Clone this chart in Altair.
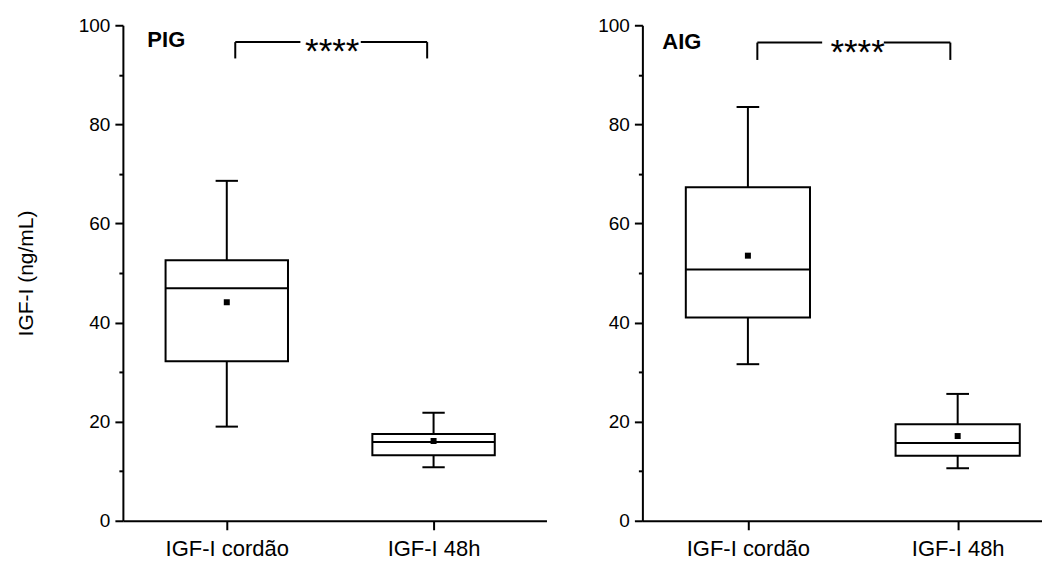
import json
import altair as alt
import pandas as pd

# ---------------- data ----------------
categories = ["IGF-I cordão", "IGF-I 48h"]
positions = [1, 2]

pig_min = [19.0, 10.8]
pig_q1 = [32.2, 13.2]
pig_median = [46.9, 15.9]
pig_q3 = [52.6, 17.5]
pig_max = [68.6, 21.8]
pig_mean = [44.1, 16.1]

aig_min = [31.6, 10.6]
aig_q1 = [41.0, 13.1]
aig_median = [50.7, 15.7]
aig_q3 = [67.3, 19.5]
aig_max = [83.5, 25.6]
aig_mean = [53.5, 17.1]

group_labels = ["PIG", "AIG"]
significance = "****"
y_ticks = [0, 10, 20, 30, 40, 50, 60, 70, 80, 90, 100]

FONT = "Liberation Sans"
BOX_HALF = 0.296
CAP_HALF = 0.054


def panel(label, mins, q1, med, q3, maxs, means, width, xdom, show_title,
          label_pos, brk):
    df = pd.DataFrame({
        "pos": positions, "cat": categories, "lo": mins, "q1": q1,
        "med": med, "q3": q3, "hi": maxs, "mean": means,
    })
    xscale = alt.Scale(domain=xdom, nice=False, zero=False)
    yscale = alt.Scale(domain=[0, 100], nice=False)
    xaxis = alt.Axis(
        values=positions,
        labelExpr=json.dumps(categories) + "[datum.value - 1]",
        title=None, grid=False, domainColor="black", domainWidth=2,
        tickColor="black", tickWidth=2, tickSize=9, labelFontSize=22,
        labelColor="black", labelPadding=9, labelFont=FONT,
    )
    yaxis = alt.Axis(
        values=y_ticks,
        labelExpr="datum.value % 20 === 0 ? datum.label : ''",
        title="IGF-I (ng/mL)" if show_title else None,
        titleFontSize=21, titleFontWeight="normal", titleColor="black",
        titleFont=FONT, titlePadding=42,
        grid=False, domainColor="black", domainWidth=2,
        tickColor="black", tickWidth=2,
        tickSize={"condition": {"test": "datum.value % 20 === 0", "value": 8}, "value": 4},
        labelFontSize=19, labelColor="black", labelPadding=5, labelFont=FONT,
    )

    base = alt.Chart(df).transform_calculate(
        x_lo=f"datum.pos - {BOX_HALF}", x_hi=f"datum.pos + {BOX_HALF}",
        c_lo=f"datum.pos - {CAP_HALF}", c_hi=f"datum.pos + {CAP_HALF}",
    )

    box = base.mark_bar(fill="white", stroke="black", strokeWidth=2).encode(
        x=alt.X("x_lo:Q", scale=xscale, axis=xaxis),
        x2="x_hi:Q",
        y=alt.Y("q1:Q", scale=yscale, axis=yaxis),
        y2="q3:Q",
    )
    median = base.mark_rule(color="black", strokeWidth=2).encode(
        x=alt.X("x_lo:Q", scale=xscale, axis=xaxis), x2="x_hi:Q",
        y=alt.Y("med:Q", scale=yscale, axis=yaxis),
    )
    w_up = base.mark_rule(color="black", strokeWidth=2).encode(
        x=alt.X("pos:Q", scale=xscale, axis=xaxis),
        y=alt.Y("q3:Q", scale=yscale, axis=yaxis), y2="hi:Q",
    )
    w_dn = base.mark_rule(color="black", strokeWidth=2).encode(
        x=alt.X("pos:Q", scale=xscale, axis=xaxis),
        y=alt.Y("lo:Q", scale=yscale, axis=yaxis), y2="q1:Q",
    )
    cap_up = base.mark_rule(color="black", strokeWidth=2).encode(
        x=alt.X("c_lo:Q", scale=xscale, axis=xaxis), x2="c_hi:Q",
        y=alt.Y("hi:Q", scale=yscale, axis=yaxis),
    )
    cap_dn = base.mark_rule(color="black", strokeWidth=2).encode(
        x=alt.X("c_lo:Q", scale=xscale, axis=xaxis), x2="c_hi:Q",
        y=alt.Y("lo:Q", scale=yscale, axis=yaxis),
    )
    mean_pt = base.mark_square(color="black", filled=True, size=36, opacity=1).encode(
        x=alt.X("pos:Q", scale=xscale, axis=xaxis),
        y=alt.Y("mean:Q", scale=yscale, axis=yaxis),
    )

    # significance bracket (data coordinates)
    bx0, bx1, gap0, gap1, ytop, ybot, tx, ty = brk
    seg = pd.DataFrame({
        "x": [bx0, gap1, bx0, bx1],
        "x2": [gap0, bx1, bx0, bx1],
        "y": [ytop, ytop, ytop, ytop],
        "y2": [ytop, ytop, ybot, ybot],
    })
    bracket = alt.Chart(seg).mark_rule(color="black", strokeWidth=2).encode(
        x=alt.X("x:Q", scale=xscale, axis=xaxis), x2="x2:Q",
        y=alt.Y("y:Q", scale=yscale, axis=yaxis), y2="y2:Q",
    )
    stars = alt.Chart(pd.DataFrame({"x": [tx], "y": [ty], "t": [significance]})).mark_text(
        font=FONT, fontSize=35, align="center", baseline="alphabetic", color="black"
    ).encode(
        x=alt.X("x:Q", scale=xscale, axis=xaxis),
        y=alt.Y("y:Q", scale=yscale, axis=yaxis), text="t:N",
    )
    lx, ly = label_pos
    grp = alt.Chart(pd.DataFrame({"x": [lx], "y": [ly], "t": [label]})).mark_text(
        font=FONT, fontSize=22, fontWeight="bold", align="left",
        baseline="alphabetic", color="black"
    ).encode(
        x=alt.X("x:Q", scale=xscale, axis=xaxis),
        y=alt.Y("y:Q", scale=yscale, axis=yaxis), text="t:N",
    )

    return alt.layer(box, w_up, w_dn, cap_up, cap_dn, median, mean_pt,
                     bracket, stars, grp).properties(width=width, height=496)


left = panel(group_labels[0], pig_min, pig_q1, pig_median, pig_q3, pig_max, pig_mean,
             424, [0.4976, 2.546], True, (0.616, 95.6),
             (1.041, 1.969, 1.356, 1.648, 96.6, 93.3, 1.51, 92.3))
right = panel(group_labels[1], aig_min, aig_q1, aig_median, aig_q3, aig_max, aig_mean,
              400, [0.497, 2.402], False, (0.592, 95.3),
              (1.045, 1.965, 1.354, 1.648, 96.5, 93.0, 1.523, 92.2))

chart = alt.hconcat(left, right, spacing=51).properties(
    padding={"left": 7, "top": 8, "right": 0, "bottom": 0}
).configure(font=FONT).configure_view(stroke=None)

chart.save("out.html", embed_options={"renderer": "svg", "actions": False})
